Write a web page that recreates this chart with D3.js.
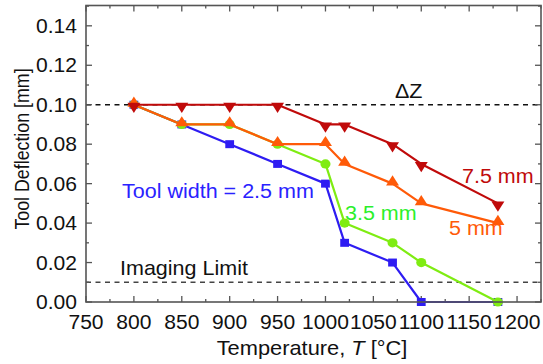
<!DOCTYPE html>
<html>
<head>
<meta charset="utf-8">
<script src="https://cdn.jsdelivr.net/npm/d3@7"></script>
<style>
  html, body { margin: 0; padding: 0; background: #fff; }
  svg text { font-family: "Liberation Sans", Arial, sans-serif; }
</style>
</head>
<body>
<svg id="chart" width="543" height="364"></svg>
<script>
// Temperatures (°C) at which deflection was measured
const temperatures = [800, 850, 900, 950, 1000, 1020, 1070, 1100, 1180];

// Tool deflection (mm) for each tool width
const width25 = [0.10, 0.09, 0.08, 0.07, 0.06, 0.03, 0.02, 0.00, 0.00];
const width35 = [0.10, 0.09, 0.09, 0.08, 0.07, 0.04, 0.03, 0.02, 0.00];
const width50 = [0.10, 0.09, 0.09, 0.08, 0.08, 0.07, 0.06, 0.05, 0.04];
const width75 = [0.10, 0.10, 0.10, 0.10, 0.09, 0.09, 0.08, 0.07, 0.05];

const xTickValues = [750, 800, 850, 900, 950, 1000, 1050, 1100, 1150, 1200];
const yTickValues = [0.00, 0.02, 0.04, 0.06, 0.08, 0.10, 0.12, 0.14];

const deltaZ = 0.10;
const imagingLimit = 0.01;

const series = [
  { values: width25, color: "#2e1cf2", textColor: "#2a22ff", marker: "square", label: "Tool width = 2.5 mm", lx: 122, ly: 198 },
  { values: width35, color: "#7fec12", textColor: "#2bef2b", marker: "circle", label: "3.5 mm", lx: 345, ly: 220 },
  { values: width50, color: "#ff5a08", textColor: "#ff5a08", marker: "triangleUp", label: "5 mm", lx: 449, ly: 235 },
  { values: width75, color: "#c00a0a", textColor: "#c00a0a", marker: "triangleDown", label: "7.5 mm", lx: 462, ly: 183 }
];

const svg = d3.select("#chart");
const plotLeft = 86, plotRight = 541, plotTop = 5.5, plotBottom = 302;

const x = d3.scaleLinear().domain([750, 1225]).range([plotLeft, plotRight]);
const y = d3.scaleLinear().domain([0, 0.1503]).range([plotBottom, plotTop]);

const axisColor = "#555";
const tickFont = { size: 19.5, sx: 1.08 };
const noteFont = { size: 20.5, sx: 1.05 };

// Places a text at (px, py), optionally widened horizontally
function label(parent, px, py, str, opts = {}) {
  const rot = opts.rotate ? ` rotate(${opts.rotate})` : "";
  const f = opts.font || noteFont;
  return parent.append("text")
    .attr("transform", `translate(${px},${py}) scale(${f.sx},1)${rot}`)
    .attr("text-anchor", opts.anchor || "start")
    .attr("font-size", f.size)
    .attr("fill", opts.fill || "#111")
    .text(str);
}

// Reference lines: target deflection and imaging limit
const refLine = (v, color) => svg.append("line")
  .attr("x1", plotLeft).attr("x2", plotRight)
  .attr("y1", y(v)).attr("y2", y(v))
  .attr("stroke", color).attr("stroke-width", 1.4)
  .attr("stroke-dasharray", "5,4.5");
refLine(deltaZ, "#111");
refLine(imagingLimit, "#444");

// Tick marks (inward) on all four sides
const xMinor = d3.range(750, 1226, 25);
const yMinor = d3.range(0, 0.1501, 0.01);
const tickG = svg.append("g").attr("stroke", axisColor).attr("stroke-width", 1.3);
xMinor.forEach(v => {
  const major = Math.abs((v - 750) % 50) < 1e-6;
  const len = major ? 6 : 3;
  tickG.append("line").attr("x1", x(v)).attr("x2", x(v)).attr("y1", plotBottom).attr("y2", plotBottom - len);
  tickG.append("line").attr("x1", x(v)).attr("x2", x(v)).attr("y1", plotTop).attr("y2", plotTop + len);
});
yMinor.forEach((v, i) => {
  const len = i % 2 === 0 ? 6 : 3;
  tickG.append("line").attr("y1", y(v)).attr("y2", y(v)).attr("x1", plotLeft).attr("x2", plotLeft + len);
  tickG.append("line").attr("y1", y(v)).attr("y2", y(v)).attr("x1", plotRight).attr("x2", plotRight - len);
});

// Tick labels
const xLabels = svg.append("g");
xTickValues.forEach(d => label(xLabels, x(d), 328.5, d, { anchor: "middle", font: tickFont }));
const yLabels = svg.append("g");
yTickValues.forEach(d => label(yLabels, 77, y(d) + 7, d.toFixed(2), { anchor: "end", font: tickFont }));

// Axis titles
const xt = label(svg, 312, 355, "", { anchor: "middle", font: { size: 21, sx: 1.04 } });
xt.append("tspan").text("Temperature, ");
xt.append("tspan").attr("font-style", "italic").text("T");
xt.append("tspan").text(" [°C]");

label(svg, 29, 149, "Tool Deflection [mm]", { anchor: "middle", rotate: -90, font: { size: 17.8, sx: 1.14 } });

// Series lines and markers
const line = d3.line().x((d, i) => x(temperatures[i])).y(d => y(d));
const sym = {
  square: d3.symbol().type(d3.symbolSquare).size(64),
  circle: d3.symbol().type(d3.symbolCircle).size(66),
  triangleUp: d3.symbol().type(d3.symbolTriangle).size(60)
};

series.forEach(s => {
  const g = svg.append("g");
  g.append("path").datum(s.values)
    .attr("d", line).attr("fill", "none")
    .attr("stroke", s.color).attr("stroke-width", 2.2).attr("stroke-linejoin", "round");
  s.values.forEach((v, i) => {
    const px = x(temperatures[i]), py = y(v);
    let path, rot = 0;
    if (s.marker === "square") path = sym.square();
    else if (s.marker === "circle") path = sym.circle();
    else { path = sym.triangleUp(); if (s.marker === "triangleDown") rot = 180; }
    const dy = s.marker === "triangleUp" ? -1.5 : (s.marker === "triangleDown" ? 1.5 : 0);
    g.append("path").attr("d", path)
      .attr("transform", `translate(${px},${py + dy}) scale(1.1,1) rotate(${rot})`)
      .attr("fill", s.color);
  });
});

// Series annotations
series.forEach(s => label(svg, s.lx, s.ly, s.label, { fill: s.textColor }));

// Reference line labels
label(svg, 395, 98, "ΔZ");
label(svg, 120, 275, "Imaging Limit");

// Plot frame
svg.append("rect")
  .attr("x", plotLeft).attr("y", plotTop).attr("width", plotRight - plotLeft).attr("height", plotBottom - plotTop)
  .attr("fill", "none").attr("stroke", axisColor).attr("stroke-width", 1.6);
</script>
</body>
</html>
